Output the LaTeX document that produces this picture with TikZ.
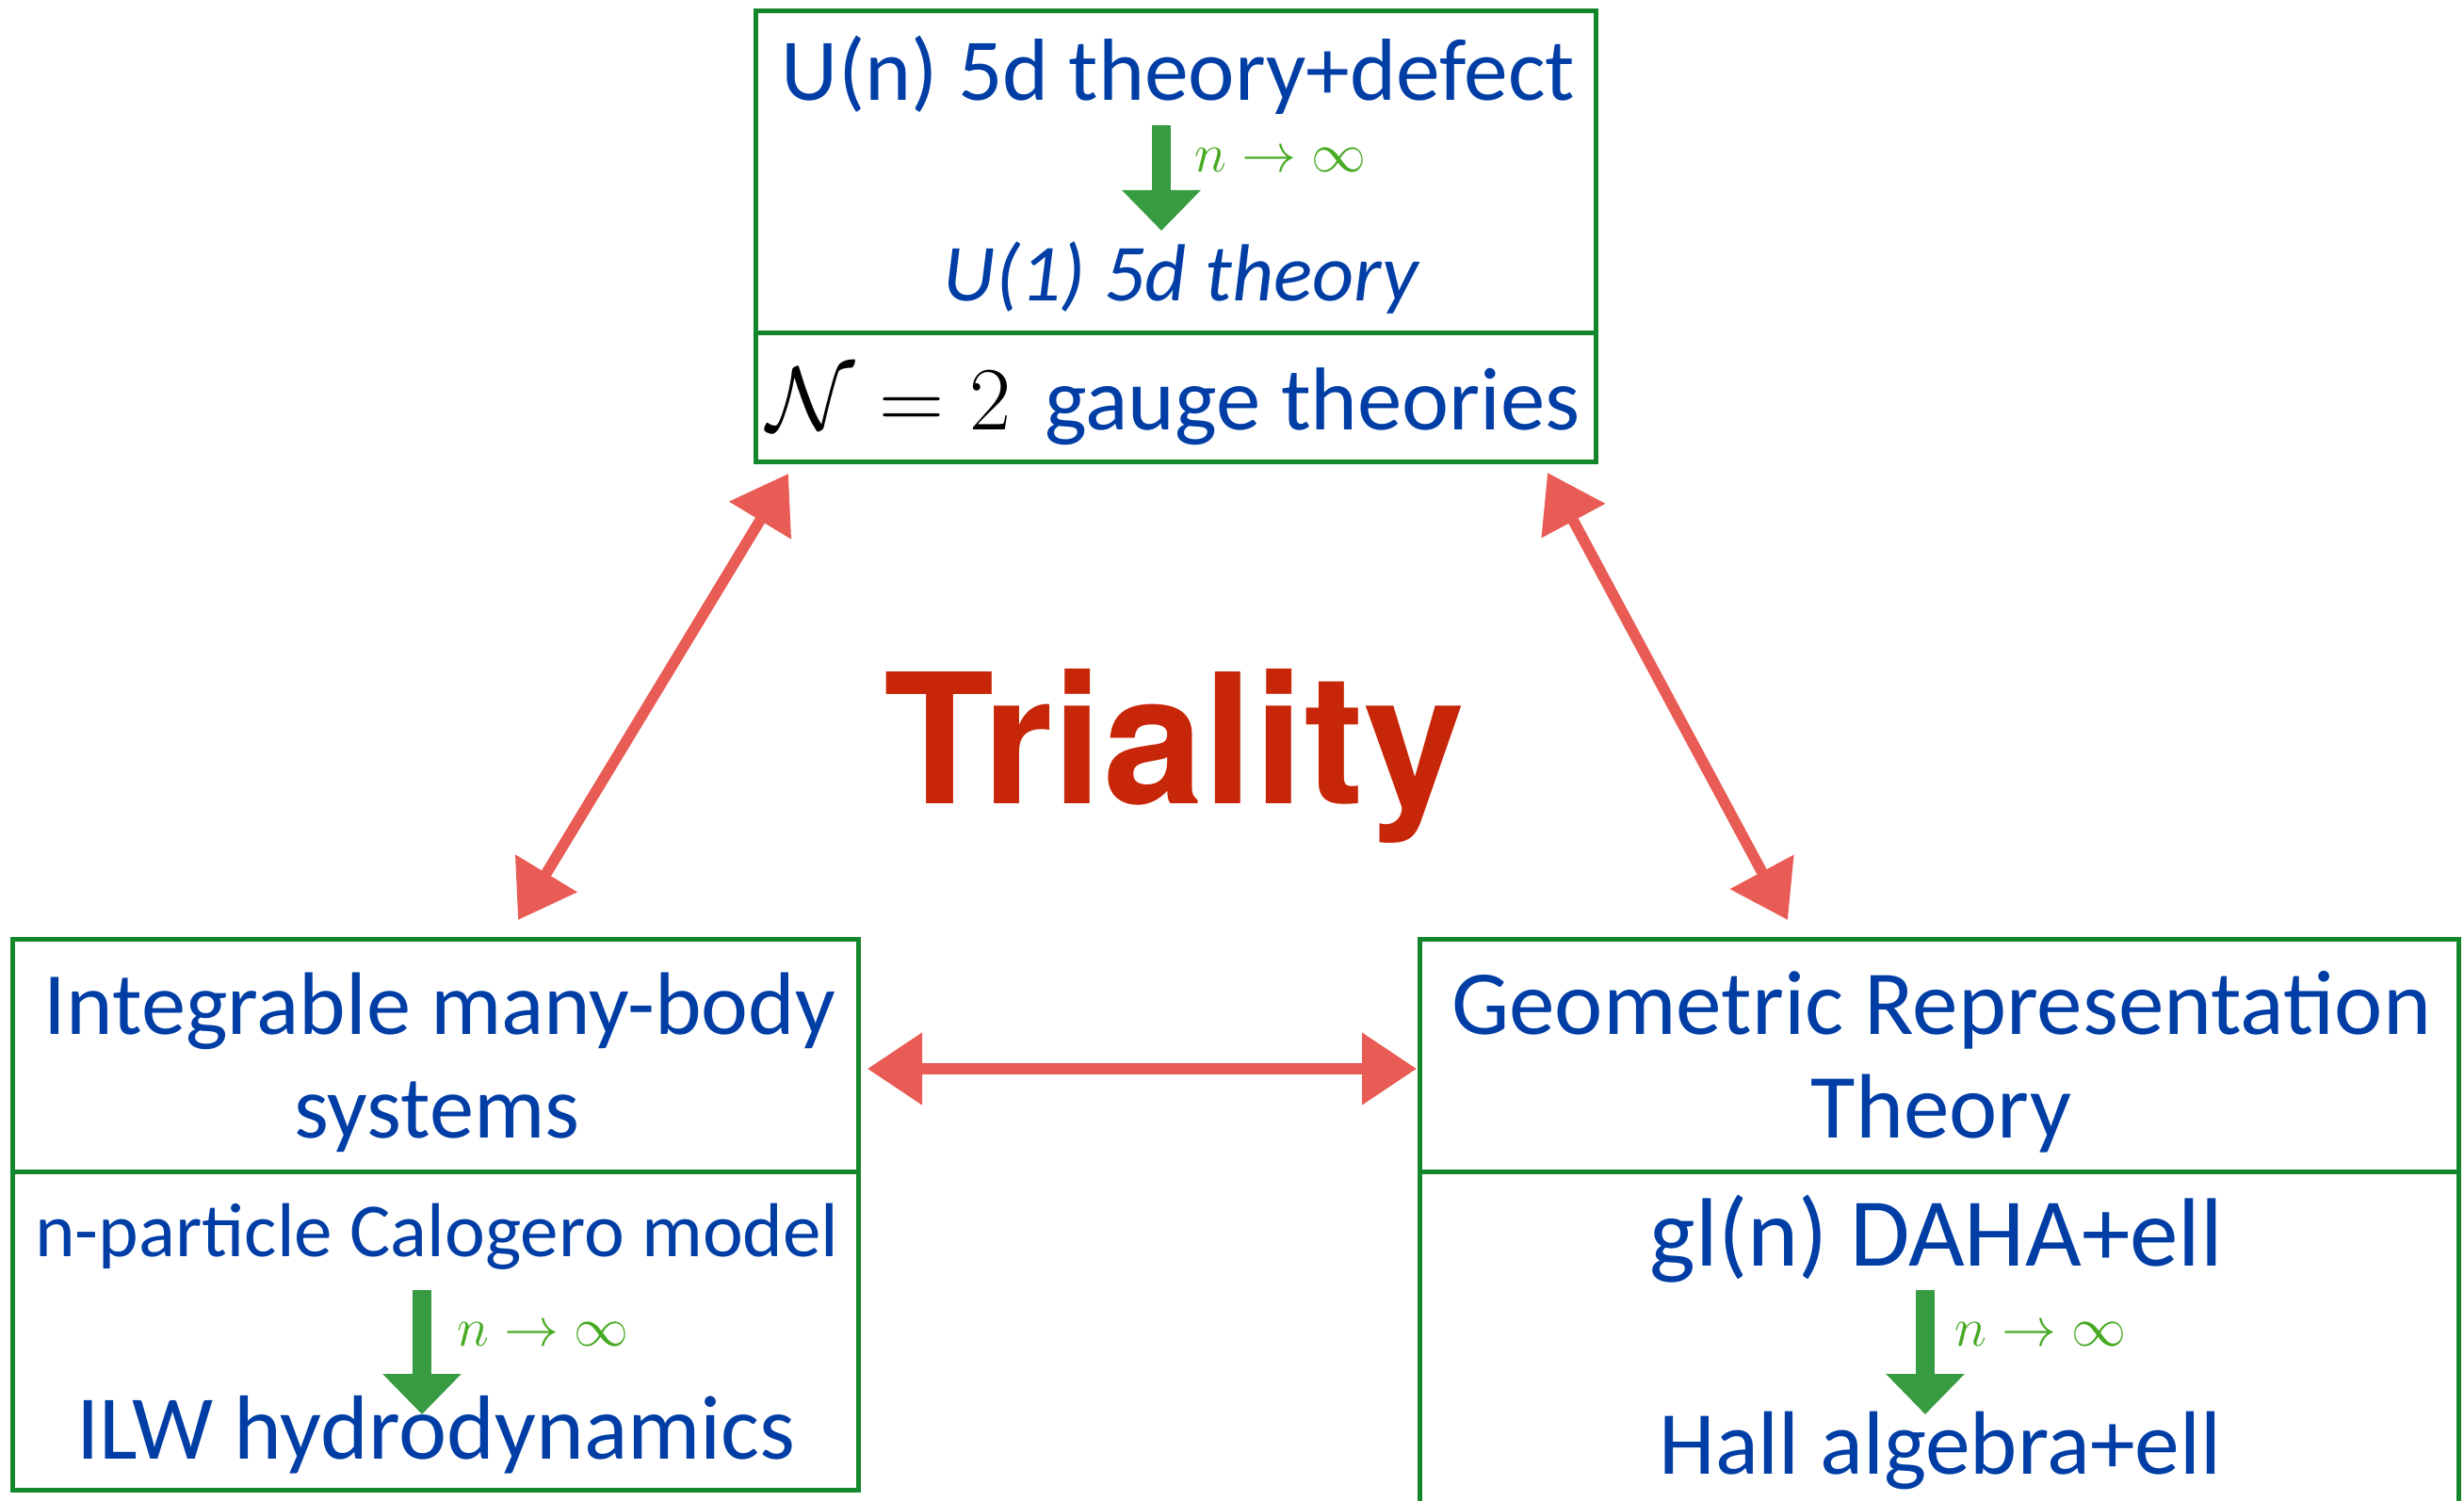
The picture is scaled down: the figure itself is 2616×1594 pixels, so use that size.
\RequirePackage{fix-cm}
\documentclass[tikz,border=0pt]{standalone}
\usepackage{fontspec}
\newfontfamily\gill{Carlito}
\newfontfamily\helv{TeX Gyre Heros}
\usetikzlibrary{arrows.meta}
\definecolor{tblue}{RGB}{0,62,166}
\definecolor{bgreen}{RGB}{20,135,45}
\definecolor{agreen}{RGB}{55,155,65}
\definecolor{lgreen}{RGB}{70,170,35}
\definecolor{rarrow}{RGB}{232,92,85}
\definecolor{tred}{RGB}{200,38,8}
\newcommand{\fsz}[1]{\fontsize{#1}{#1}\selectfont}
\begin{document}
\begin{tikzpicture}[x=0.25pt,y=-0.25pt,
  boxline/.style={draw=bgreen, line width=1.25pt},
  txt/.style={inner sep=0pt, anchor=base, text=tblue},
  lim/.style={inner sep=0pt, anchor=base west, text=lgreen, font=\fsz{14.5pt}},
  garrow/.style={draw=agreen, line width=5pt, -{Triangle[width=20.25pt,length=10.75pt]}},
  rarr/.style={draw=rarrow, line width=2.9pt, {Triangle[width=18.5pt,length=14.5pt]}-{Triangle[width=18.5pt,length=14.5pt]}}
]
\useasboundingbox (0,0) rectangle (2616,1594);
% box corners
\coordinate (tbTL) at (802,12);   \coordinate (tbMR) at (1694,354); \coordinate (tbML) at (802,354); \coordinate (tbBR) at (1694,491);
\coordinate (lbTL) at (13,997);   \coordinate (lbMR) at (911,1244); \coordinate (lbML) at (13,1244); \coordinate (lbBR) at (911,1582);
\coordinate (rbTL) at (1507,997); \coordinate (rbMR) at (2610,1244); \coordinate (rbML) at (1507,1244);
\coordinate (rbBL) at (1507,1594); \coordinate (rbBR) at (2610,1594);
% boxes
\draw[boxline] (tbTL) rectangle (tbMR);
\draw[boxline] (tbML) rectangle (tbBR);
\draw[boxline] (lbTL) rectangle (lbMR);
\draw[boxline] (lbML) rectangle (lbBR);
\draw[boxline] (rbTL) rectangle (rbMR);
\draw[boxline] (rbBL) -- (rbML) -- (rbMR) -- (rbBR);
% texts
\node[txt, font=\gill\fsz{23.4pt}] (t1) at (1251,107) {U(n) 5d theory+defect};
\node[txt, font=\gill\itshape\fsz{21.5pt}] (t2) at (1254,320) {U(1) 5d theory};
\node[txt] (t3) at (1246,456) {{\fsz{24pt}\color{black}$\mathcal{N}=2$}\hspace{9pt}{\gill\fsz{23.7pt}gauge theories}};
\node[txt, font=\gill\fsz{23.6pt}] (t4) at (467,1098) {Integrable many-body};
\node[txt, font=\gill\fsz{23.6pt}] (t5) at (464,1208) {systems};
\node[txt, font=\gill\fsz{20.3pt}] (t6) at (464,1334) {n-particle Calogero model};
\node[txt, font=\gill\fsz{24.2pt}] (t7) at (463,1549) {ILW hydrodynamics};
\node[txt, font=\gill\fsz{24.3pt}] (t8) at (2061,1098) {Geometric Representation};
\node[txt, font=\gill\fsz{24.3pt}] (t9) at (2061,1208) {Theory};
\node[txt, font=\gill\fsz{25.8pt}] (t10) at (2056,1344) {gl(n) DAHA+ell};
\node[txt, font=\gill\fsz{23.9pt}] (t11) at (2060,1565) {Hall algebra+ell};
\node[inner sep=0pt, anchor=base, text=tred, font=\helv\bfseries\fsz{48pt}] (tri) at (1247,853) {Triality};
% limit arrows
\coordinate (g1a) at (1233,133); \coordinate (g1b) at (1233,245);
\coordinate (g2a) at (448,1370); \coordinate (g2b) at (448,1502);
\coordinate (g3a) at (2044,1370); \coordinate (g3b) at (2044,1502);
\draw[garrow] (g1a) -- (g1b);
\draw[garrow] (g2a) -- (g2b);
\draw[garrow] (g3a) -- (g3b);
\node[lim] (l1) at (1268,183) {$n\to\infty$};
\node[lim] (l2) at (485,1429) {$n\to\infty$};
\node[lim] (l3) at (2075,1429) {$n\to\infty$};
% triality arrows
\coordinate (d1a) at (837,503); \coordinate (d1b) at (550,977);
\coordinate (d2a) at (1643,502); \coordinate (d2b) at (1898,977);
\coordinate (h1a) at (921,1135); \coordinate (h1b) at (1504,1135);
\draw[rarr] (d1a) -- (d1b);
\draw[rarr] (d2a) -- (d2b);
\draw[rarr] (h1a) -- (h1b);
\end{tikzpicture}
\end{document}
